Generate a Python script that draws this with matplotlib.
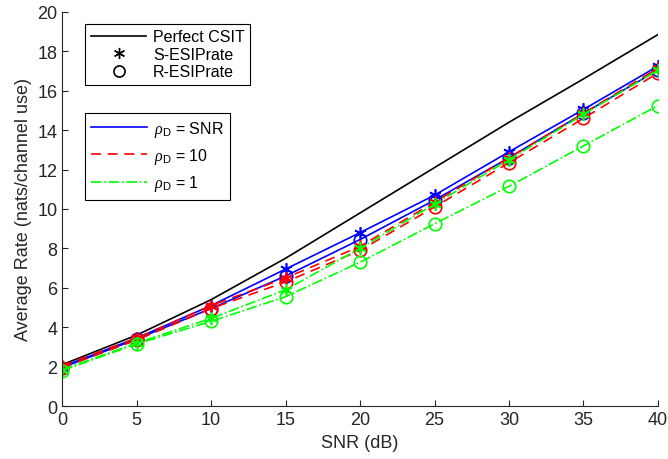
import numpy as np
import matplotlib
matplotlib.use('Agg')
import matplotlib.pyplot as plt
from matplotlib.lines import Line2D

plt.rcParams['font.family'] = ['Liberation Sans', 'DejaVu Sans']
plt.rcParams['mathtext.fontset'] = 'custom'
plt.rcParams['mathtext.rm'] = 'Liberation Sans'
plt.rcParams['mathtext.it'] = 'Liberation Serif:italic'

snr = [0, 5, 10, 15, 20, 25, 30, 35, 40]
perfect = [2.1, 3.6, 5.4, 7.5, 9.8, 12.1, 14.4, 16.6, 18.85]

# S-ESIPrate (stars) and R-ESIPrate (circles) for each rho_D
s_snr = [2.0, 3.45, 5.1, 6.95, 8.8, 10.7, 12.9, 15.05, 17.25]
r_snr = [1.95, 3.4, 4.95, 6.6, 8.45, 10.45, 12.6, 14.85, 17.05]
s_10 = [2.05, 3.45, 5.1, 6.5, 8.1, 10.35, 12.6, 14.85, 17.15]
r_10 = [1.95, 3.35, 4.95, 6.3, 7.9, 10.1, 12.35, 14.6, 16.9]
s_1 = [1.85, 3.2, 4.45, 5.9, 8.0, 10.25, 12.5, 14.8, 17.05]
r_1 = [1.8, 3.15, 4.3, 5.55, 7.3, 9.25, 11.15, 13.2, 15.25]

fig = plt.figure(figsize=(6.68, 4.6), dpi=100)
ax = fig.add_axes([0.093, 0.115, 0.892, 0.857])

star = (6, 2, 0)
lw = 1.2
green = (0, 1, 0)
ax.plot(snr, perfect, color='k', lw=lw)
series = [(s_snr, r_snr, 'b', '-'), (s_10, r_10, 'r', (0, (6, 4))), (s_1, r_1, green, '-.')]
for s, r, c, ls in series:
    ax.plot(snr, s, color=c, ls=ls, lw=lw, marker=star, ms=9, mew=1.2)
    ax.plot(snr, r, color=c, ls=ls, lw=lw, marker='o', ms=9, mfc='none', mew=1.2)

ax.set_xlim(0, 40)
ax.set_ylim(0, 20)
ax.set_xticks(range(0, 41, 5))
ax.set_yticks(range(0, 21, 2))
ax.spines['top'].set_visible(False)
ax.spines['right'].set_visible(False)
for sp in ax.spines.values():
    sp.set_color('#262626')
ax.tick_params(direction='in', labelsize=13, colors='#262626', length=4)
ax.set_xlabel('SNR (dB)', fontsize=13, color='#262626')
ax.set_ylabel('Average Rate (nats/channel use)', fontsize=13, color='#262626')

h1 = [Line2D([], [], color='k', lw=lw),
      Line2D([], [], color='k', ls='none', marker=star, ms=8),
      Line2D([], [], color='k', ls='none', marker='o', ms=8, mfc='none', mew=1.2)]
leg1 = ax.legend(h1, ['Perfect CSIT', 'S-ESIPrate', 'R-ESIPrate'], loc='upper left',
                 bbox_to_anchor=(0.025, 0.99), fontsize=11.5, fancybox=False,
                 edgecolor='k', framealpha=1, handlelength=3.5, borderpad=0.35,
                 labelspacing=0.15, handletextpad=0.4)
leg1.get_frame().set_linewidth(0.8)
ax.add_artist(leg1)

h2 = [Line2D([], [], color='b', ls='-', lw=lw),
      Line2D([], [], color='r', ls=(0, (6, 4)), lw=lw),
      Line2D([], [], color=green, ls='-.', lw=lw)]
labels2 = [r'$\mathit{\rho}_{\mathrm{D}}$ = SNR', r'$\mathit{\rho}_{\mathrm{D}}$ = 10',
           r'$\mathit{\rho}_{\mathrm{D}}$ = 1']
leg2 = ax.legend(h2, labels2, loc='upper left', bbox_to_anchor=(0.025, 0.765), fontsize=11.5,
                 fancybox=False, edgecolor='k', framealpha=1, handlelength=3.5,
                 borderpad=0.4, labelspacing=0.45, handletextpad=0.4)
leg2.get_frame().set_linewidth(0.8)

fig.savefig('out.png', dpi=100)
